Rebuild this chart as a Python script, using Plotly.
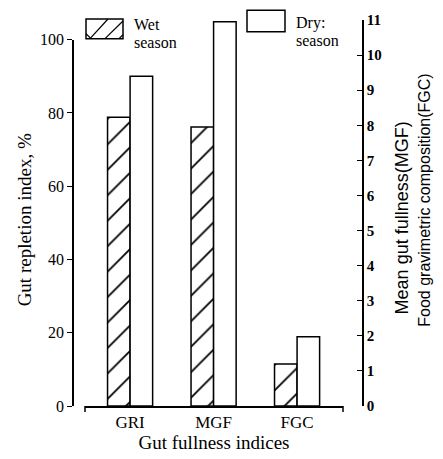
import plotly.graph_objects as go

categories = ["GRI", "MGF", "FGC"]
left_cats = ["GRI"]
right_cats = ["MGF", "FGC"]
wet_left = [78.8]
dry_left = [90.0]
wet_right = [7.95, 1.2]
dry_right = [10.95, 1.97]
left_ticks = [0, 20, 40, 60, 80, 100]
right_ticks = list(range(0, 12))

W, H = 443, 459
ML, MR, MT, MB = 73, 80, 13, 53
PW = W - ML - MR
PH = H - MT - MB

def px(x):
    return (x - ML) / PW

def py(y):
    return (H - MB - y) / PH

SERIF = "Liberation Serif"
SANS = "Liberation Sans"

line = dict(color="black", width=1.5)
hatch = dict(shape="/", fgcolor="black", bgcolor="white", fgopacity=1, size=18, solidity=0.1)
fig = go.Figure()
fig.add_trace(go.Bar(x=left_cats, y=wet_left, offsetgroup="wet", yaxis="y",
                     marker=dict(color="white", line=line, pattern=hatch), showlegend=False))
fig.add_trace(go.Bar(x=left_cats, y=dry_left, offsetgroup="dry", yaxis="y",
                     marker=dict(color="white", line=line), showlegend=False))
fig.add_trace(go.Bar(x=right_cats, y=wet_right, offsetgroup="wet", yaxis="y2",
                     marker=dict(color="white", line=line, pattern=hatch), showlegend=False))
fig.add_trace(go.Bar(x=right_cats, y=dry_right, offsetgroup="dry", yaxis="y2",
                     marker=dict(color="white", line=line), showlegend=False))

x0, x1 = 85, 343
fig.update_layout(
    width=W, height=H,
    margin=dict(l=ML, r=MR, t=MT, b=MB),
    paper_bgcolor="white", plot_bgcolor="rgba(0,0,0,0)",
    barmode="group", bargap=0.46, bargroupgap=0,
    xaxis=dict(domain=[px(x0), px(x1)], categoryorder="array", categoryarray=categories,
               range=[-0.54, 2.55], showline=True, linecolor="black", linewidth=1.5,
               ticks="", showgrid=False, zeroline=False,
               tickfont=dict(family=SERIF, size=17, color="black"),
               title=dict(text="Gut fullness indices", font=dict(family=SERIF, size=19, color="black"), standoff=0)),
    yaxis=dict(domain=[0, py(33)], range=[0, 100], anchor="free", position=0,
               tickvals=left_ticks, showline=True, linecolor="black", linewidth=1.5,
               ticks="outside", ticklen=5, tickcolor="black", showgrid=False, zeroline=False,
               tickfont=dict(family=SERIF, size=16, color="black")),
    yaxis2=dict(domain=[0, 1], range=[0, 11], anchor="free", position=1, side="right",
                tickvals=right_ticks, showline=True, linecolor="black", linewidth=1.5,
                ticks="inside", ticklen=5, tickcolor="black", showgrid=False, zeroline=False,
                tickfont=dict(family=SERIF, size=15, color="black", weight="bold")),
    font=dict(family=SERIF, color="black"),
)

# left axis title
fig.add_annotation(text="Gut repletion index, %", xref="paper", yref="paper",
                   x=px(24), y=py(217), textangle=-90, showarrow=False,
                   xanchor="center", yanchor="middle",
                   font=dict(family=SERIF, size=19, color="black"))
# right axis titles
fig.add_annotation(text="Mean gut fullness(MGF)", xref="paper", yref="paper",
                   x=px(402), y=py(215), textangle=-90, showarrow=False,
                   xanchor="center", yanchor="middle",
                   font=dict(family=SANS, size=18, color="black"))
fig.add_annotation(text="Food gravimetric composition(FGC)", xref="paper", yref="paper",
                   x=px(425), y=py(197), textangle=-90, showarrow=False,
                   xanchor="center", yanchor="middle",
                   font=dict(family=SANS, size=16, color="black"))

# x-axis end ticks
for xe in (x0, x1):
    fig.add_shape(type="line", xref="paper", yref="paper", x0=px(xe), x1=px(xe),
                  y0=py(406), y1=py(412), line=dict(color="black", width=1.5))

# legend boxes
fig.add_shape(type="rect", xref="paper", yref="paper", x0=px(86), x1=px(123),
              y0=py(32), y1=py(12), line=dict(color="black", width=1.5), fillcolor="white")
for (a, b, c, d) in [(86, 27, 91, 32), (90, 32, 108, 12), (105, 32, 123, 14), (119, 32, 123, 28)]:
    fig.add_shape(type="line", xref="paper", yref="paper", x0=px(a), y0=py(b), x1=px(c), y1=py(d),
                  line=dict(color="black", width=1.2))
fig.add_shape(type="rect", xref="paper", yref="paper", x0=px(247), x1=px(285),
              y0=py(25), y1=py(3), line=dict(color="black", width=1.5), fillcolor="white")

for text, x, y in [("Wet", 132, 18), ("season", 132, 36), ("Dry:", 294, 16), ("season", 294, 34)]:
    fig.add_annotation(text=text, xref="paper", yref="paper", x=px(x), y=py(y),
                       xanchor="left", yanchor="middle", showarrow=False,
                       font=dict(family=SERIF, size=16, color="black"))

fig.write_html("out.html")
